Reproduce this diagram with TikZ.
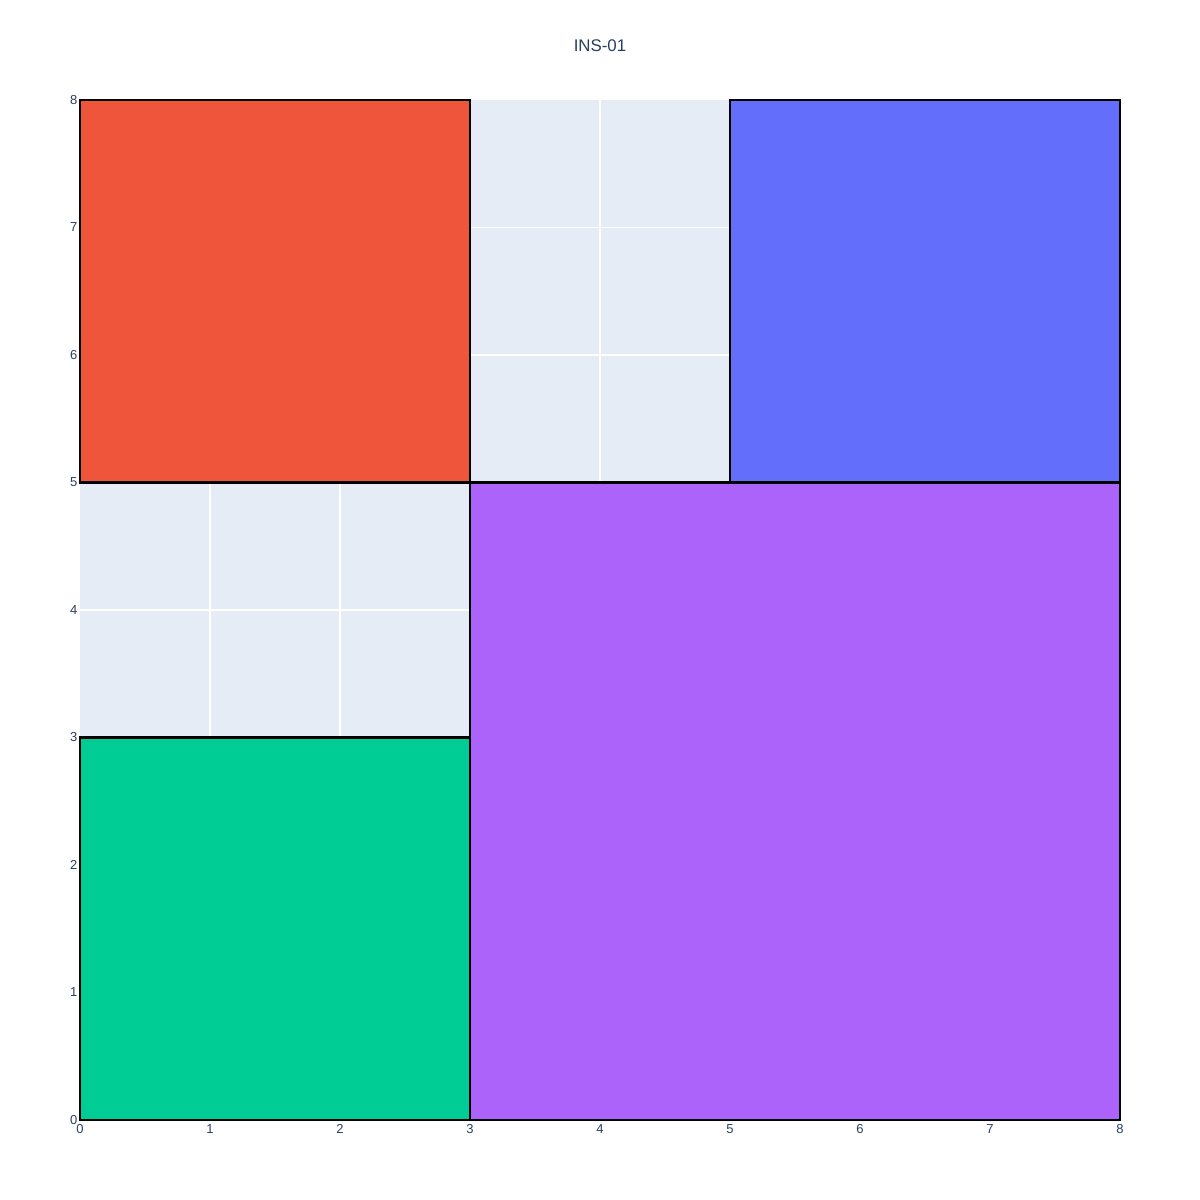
\documentclass[tikz,border=0pt]{standalone}
\usepackage{fontspec}
\setmainfont{Liberation Sans}
\usetikzlibrary{positioning,calc}
\definecolor{plotBg}{HTML}{E5ECF6}
\definecolor{plotText}{HTML}{2A3F5F}
\definecolor{tileRed}{HTML}{EF553B}
\definecolor{tileBlue}{HTML}{636EFA}
\definecolor{tilePurple}{HTML}{AB63FA}
\definecolor{tileGreen}{HTML}{00CC96}

\begin{document}
\begin{tikzpicture}[
  x=1.3cm,y=1.275cm,
  tile/.style={draw=black,line width=0.57pt},
  gridline/.style={draw=white,line width=0.35pt},
  ticklbl/.style={text=plotText,font=\fontsize{3.7pt}{4.4pt}\selectfont,inner sep=0pt}
]
  % page size (1200 x 1200 px)
  \useasboundingbox ($(0,0)+(-0.8cm,-0.8cm)$) rectangle ($(0,0)+(11.2cm,11.2cm)$);
  % plot area
  \fill[plotBg] (0,0) rectangle (8,8);
  \foreach \k in {1,...,7} {
    \draw[gridline] (\k,0) -- (\k,8);
    \draw[gridline] (0,\k) -- (8,\k);
  }
  % tiles
  \fill[tileRed] (0,5) rectangle (3,8);
  \fill[tileBlue] (5,5) rectangle (8,8);
  \fill[tilePurple] (3,0) rectangle (8,5);
  \fill[tileGreen] (0,0) rectangle (3,3);
  \draw[tile] (0,5) rectangle (3,8);
  \draw[tile] (5,5) rectangle (8,8);
  \draw[tile] (3,0) rectangle (8,5);
  \draw[tile] (0,0) rectangle (3,3);
  % ticks
  \foreach \k in {0,...,8} {
    \node[ticklbl,anchor=north] (xt\k) at ($(\k,0)+(0,-0.04cm)$) {\k};
    \node[ticklbl,anchor=east] (yt\k) at ($(0,\k)+(-0.02cm,0)$) {\k};
  }
  % title
  \node[text=plotText,font=\fontsize{4.8pt}{6pt}\selectfont] (title) at ($(4,8)+(0,0.54cm)$) {INS-01};
\end{tikzpicture}
\end{document}
